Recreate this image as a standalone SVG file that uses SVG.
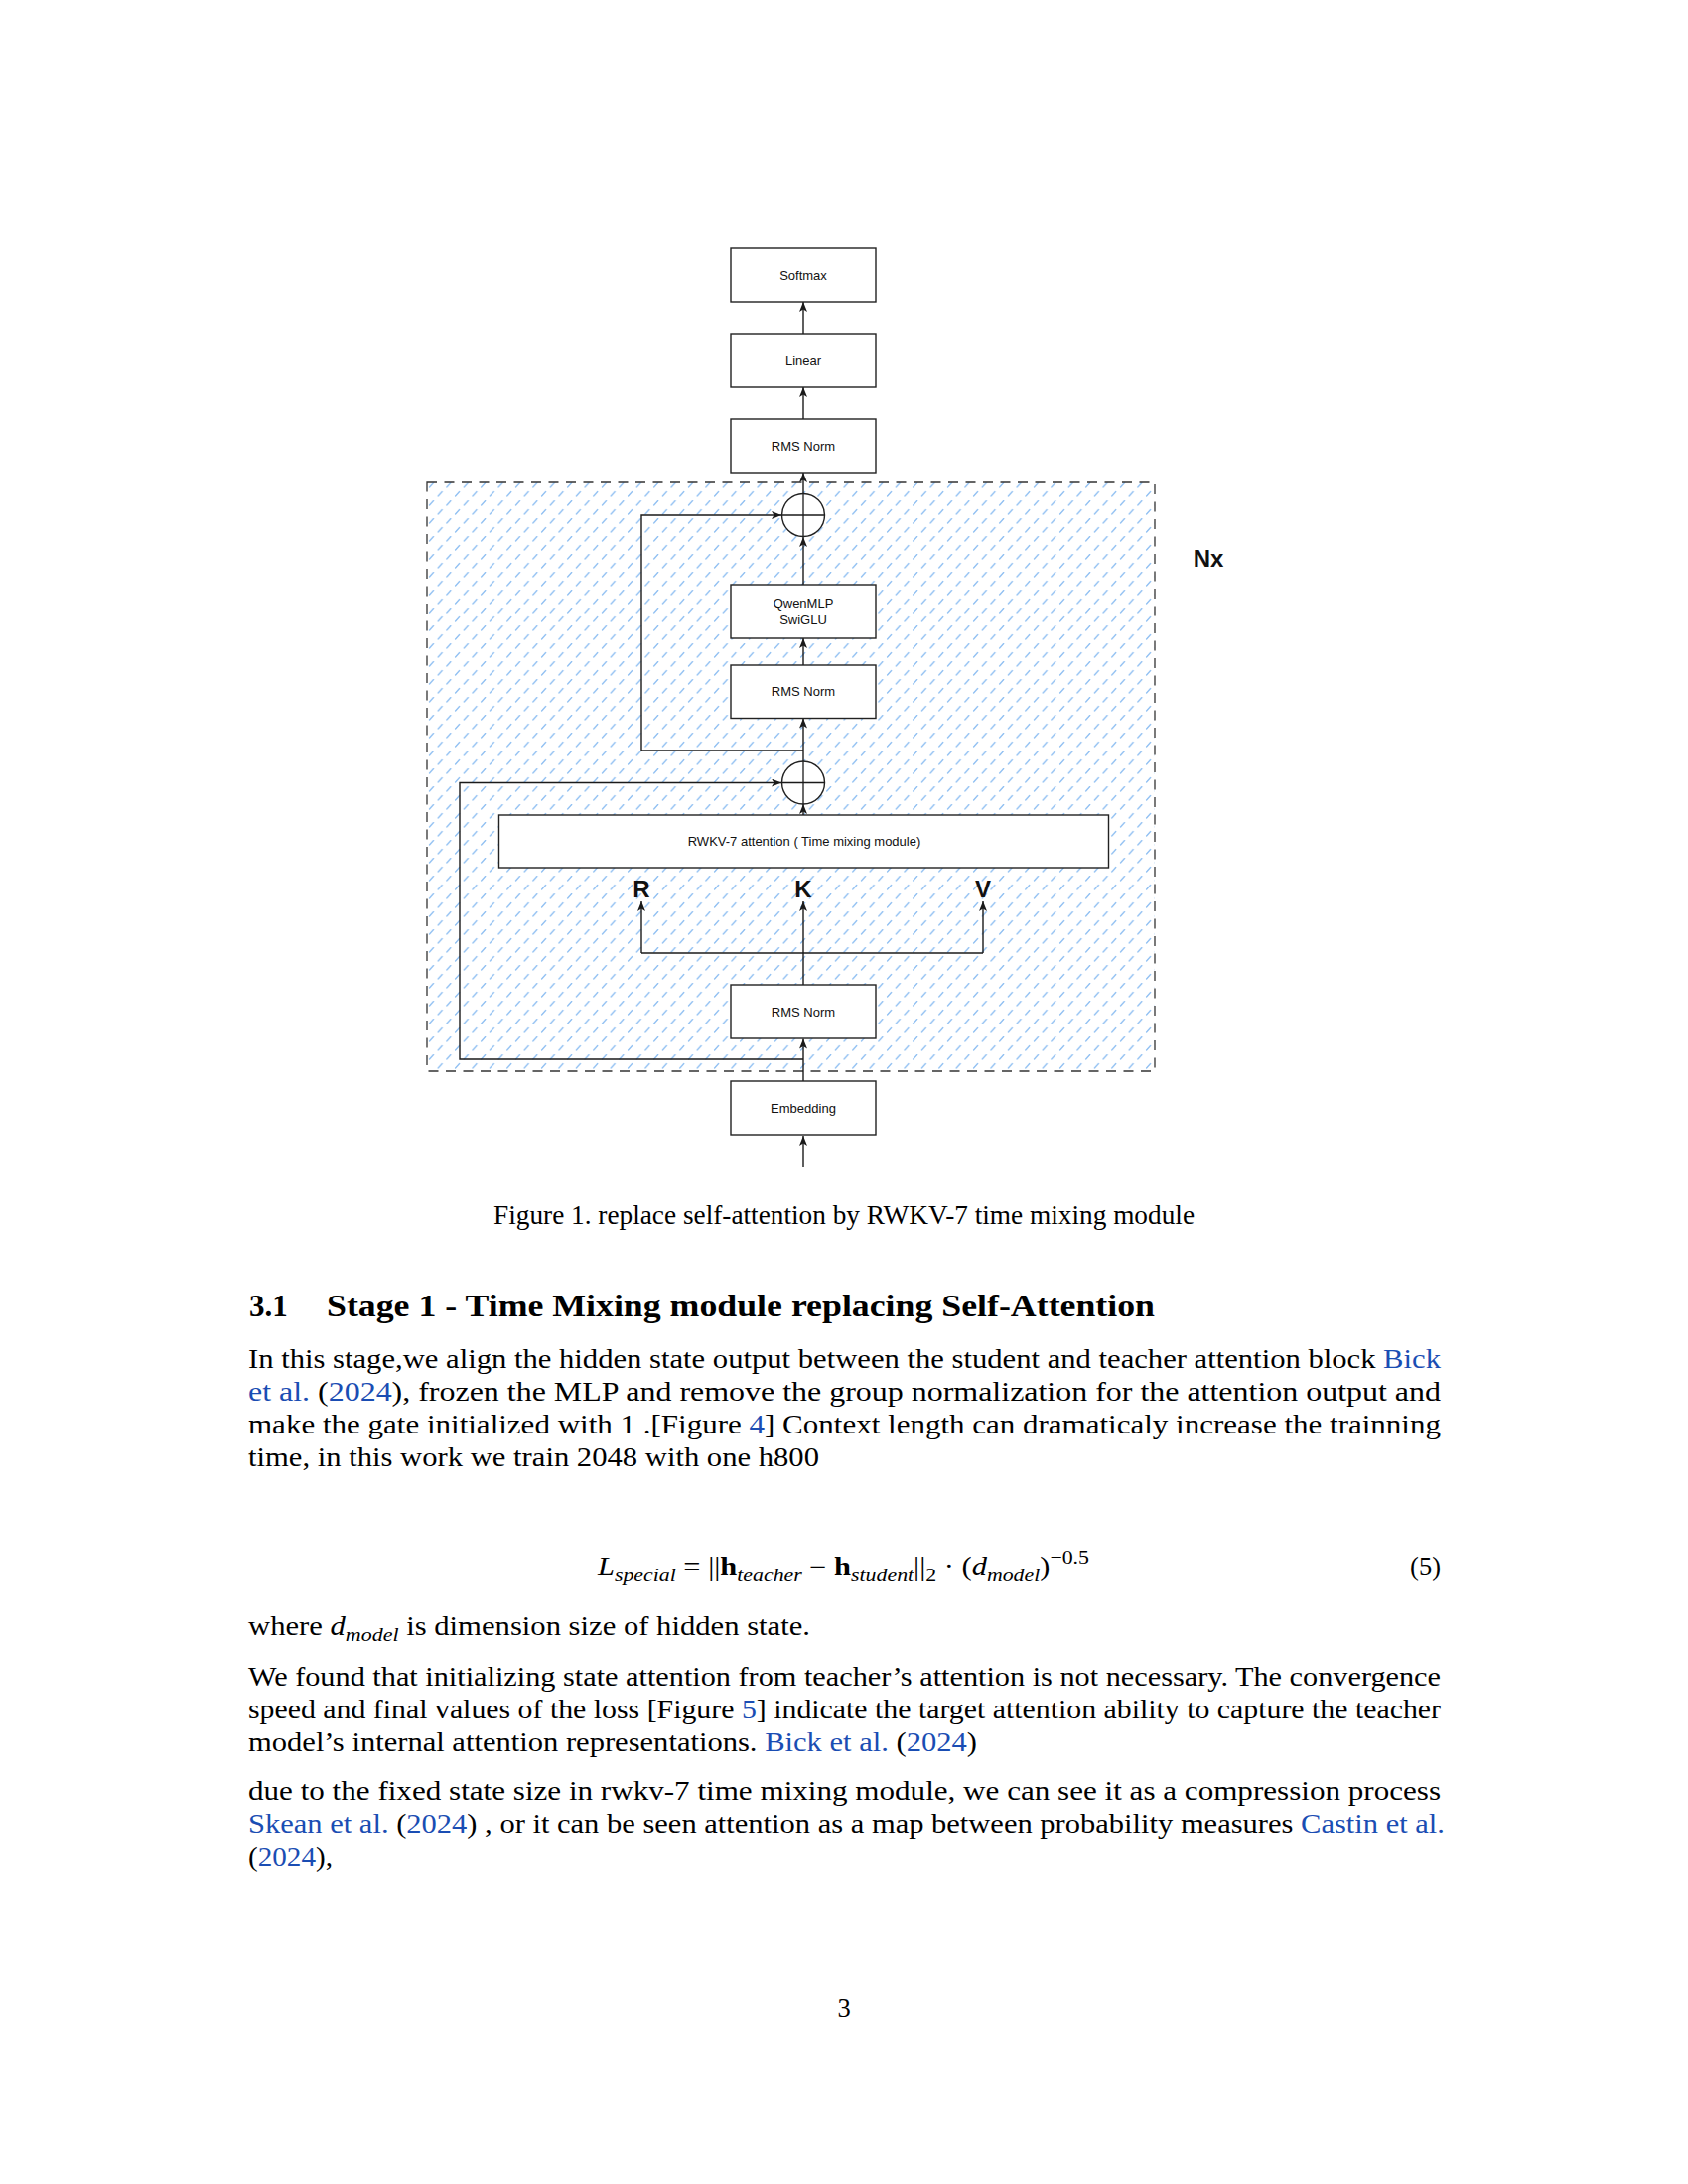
<svg xmlns="http://www.w3.org/2000/svg" width="1700" height="2200" viewBox="0 0 1700 2200">
<style>
.box{fill:#fff;stroke:#222;stroke-width:1.4}
.lbl{font-family:"Liberation Sans",Arial,sans-serif;font-size:13px;fill:#111;text-anchor:middle}
.big{font-family:"Liberation Sans",Arial,sans-serif;font-size:24px;font-weight:bold;fill:#111;text-anchor:middle}
.conn{fill:none;stroke:#1a1a1a;stroke-width:1.4}
.body{font-family:"Liberation Serif","Times New Roman",serif;font-size:26.5px;fill:#000}
.head{font-family:"Liberation Serif","Times New Roman",serif;font-size:31px;font-weight:bold;fill:#000}
.lnk{fill:#1a4db3}
.it{font-style:italic}
</style>
<defs>
<pattern id="hatch" patternUnits="userSpaceOnUse" x="430" y="486" width="17.4" height="18">
<path d="M2.5,5 L6.5,0.5 M11.2,14 L15.2,9.5" stroke="#8fbff2" stroke-width="1.3" stroke-linecap="round"/>
</pattern>
<marker id="arr" markerUnits="userSpaceOnUse" markerWidth="10" markerHeight="8" refX="10" refY="4" orient="auto">
<path d="M0,0 L10,4 L0,8 L2.5,4 Z" fill="#1a1a1a"/>
</marker>
</defs>
<rect width="1700" height="2200" fill="#fff"/>

<g id="container-nx">
<rect x="430" y="486" width="733" height="593" fill="url(#hatch)" stroke="#333" stroke-width="1.3" stroke-dasharray="10 7.5"/>
<text x="1217" y="571" class="big">Nx</text>
</g>

<g id="connectors">
<line class="conn" x1="809" y1="336" x2="809" y2="304" marker-end="url(#arr)"/>
<line class="conn" x1="809" y1="422" x2="809" y2="390" marker-end="url(#arr)"/>
<line class="conn" x1="809" y1="497.5" x2="809" y2="476" marker-end="url(#arr)"/>
<line class="conn" x1="809" y1="589" x2="809" y2="541" marker-end="url(#arr)"/>
<line class="conn" x1="809" y1="670" x2="809" y2="643" marker-end="url(#arr)"/>
<line class="conn" x1="809" y1="767" x2="809" y2="723.5" marker-end="url(#arr)"/>
<line class="conn" x1="809" y1="821" x2="809" y2="810" marker-end="url(#arr)"/>
<polyline class="conn" points="809,756 646,756 646,519 787,519" marker-end="url(#arr)"/>
<polyline class="conn" points="809,1067 463,1067 463,788.5 787,788.5" marker-end="url(#arr)"/>
<line class="conn" x1="809" y1="992" x2="809" y2="908" marker-end="url(#arr)"/>
<line class="conn" x1="646" y1="960" x2="990" y2="960"/>
<line class="conn" x1="646" y1="960" x2="646" y2="908" marker-end="url(#arr)"/>
<line class="conn" x1="990" y1="960" x2="990" y2="908" marker-end="url(#arr)"/>
<line class="conn" x1="809" y1="1089" x2="809" y2="1046.5" marker-end="url(#arr)"/>
<line class="conn" x1="809" y1="1176" x2="809" y2="1144" marker-end="url(#arr)"/>
</g>

<g id="node-softmax"><rect class="box" x="736" y="250" width="146" height="54"/><text class="lbl" x="809" y="281.5">Softmax</text></g>
<g id="node-linear"><rect class="box" x="736" y="336" width="146" height="54"/><text class="lbl" x="809" y="367.5">Linear</text></g>
<g id="node-rmsnorm-final"><rect class="box" x="736" y="422" width="146" height="54"/><text class="lbl" x="809" y="453.5">RMS Norm</text></g>
<g id="node-add-2"><circle cx="809" cy="519" r="21.5" fill="#fff" stroke="#222" stroke-width="1.4"/><line x1="787.5" y1="519" x2="830.5" y2="519" stroke="#1a1a1a" stroke-width="1.3"/><line x1="809" y1="497.5" x2="809" y2="540.5" stroke="#1a1a1a" stroke-width="1.3"/></g>
<g id="node-mlp"><rect class="box" x="736" y="589" width="146" height="54"/><text class="lbl" x="809" y="612">QwenMLP</text><text class="lbl" x="809" y="629">SwiGLU</text></g>
<g id="node-rmsnorm-2"><rect class="box" x="736" y="670" width="146" height="53.5"/><text class="lbl" x="809" y="701">RMS Norm</text></g>
<g id="node-add-1"><circle cx="809" cy="788.5" r="21.5" fill="#fff" stroke="#222" stroke-width="1.4"/><line x1="787.5" y1="788.5" x2="830.5" y2="788.5" stroke="#1a1a1a" stroke-width="1.3"/><line x1="809" y1="767" x2="809" y2="810" stroke="#1a1a1a" stroke-width="1.3"/></g>
<g id="node-rwkv"><rect class="box" x="502.5" y="821" width="614" height="53"/><text class="lbl" x="810" y="852">RWKV-7 attention ( Time mixing module)</text></g>
<g id="label-r"><text class="big" x="646" y="904">R</text></g>
<g id="label-k"><text class="big" x="809" y="904">K</text></g>
<g id="label-v"><text class="big" x="990" y="904">V</text></g>
<g id="node-rmsnorm-1"><rect class="box" x="736" y="992" width="146" height="54"/><text class="lbl" x="809" y="1023.5">RMS Norm</text></g>
<g id="node-embedding"><rect class="box" x="736" y="1089" width="146" height="54"/><text class="lbl" x="809" y="1120.5">Embedding</text></g>

<g id="page-text">
<text class="body" x="497" y="1233" textLength="706" lengthAdjust="spacingAndGlyphs">Figure 1. replace self-attention by RWKV-7 time mixing module</text>
<text class="head" x="251" y="1326">3.1</text>
<text class="head" x="329" y="1326" textLength="834" lengthAdjust="spacingAndGlyphs">Stage 1 - Time Mixing module replacing Self-Attention</text>

<text class="body" x="250" y="1378" textLength="1201" lengthAdjust="spacingAndGlyphs">In this stage,we align the hidden state output between the student and teacher attention block <tspan class="lnk">Bick</tspan></text>
<text class="body" x="250" y="1411" textLength="1201" lengthAdjust="spacingAndGlyphs"><tspan class="lnk">et al.</tspan> (<tspan class="lnk">2024</tspan>), frozen the MLP and remove the group normalization for the attention output and</text>
<text class="body" x="250" y="1444" textLength="1201" lengthAdjust="spacingAndGlyphs">make the gate initialized with 1 .[Figure <tspan class="lnk">4</tspan>] Context length can dramaticaly increase the trainning</text>
<text class="body" x="250" y="1477" textLength="575" lengthAdjust="spacingAndGlyphs">time, in this work we train 2048 with one h800</text>

<text class="body" x="602" y="1587" textLength="495" lengthAdjust="spacingAndGlyphs"><tspan class="it">L</tspan><tspan class="it" font-size="19" dy="6">special</tspan><tspan dy="-6"> = ||</tspan><tspan font-weight="bold">h</tspan><tspan class="it" font-size="19" dy="6">teacher</tspan><tspan dy="-6"> − </tspan><tspan font-weight="bold">h</tspan><tspan class="it" font-size="19" dy="6">student</tspan><tspan dy="-6">||</tspan><tspan font-size="19" dy="6">2</tspan><tspan dy="-6"> · (</tspan><tspan class="it">d</tspan><tspan class="it" font-size="19" dy="6">model</tspan><tspan dy="-6">)</tspan><tspan font-size="19" dy="-12">−0.5</tspan></text>
<text class="body" x="1451" y="1587" text-anchor="end">(5)</text>

<text class="body" x="250" y="1647" textLength="566" lengthAdjust="spacingAndGlyphs">where <tspan class="it">d</tspan><tspan class="it" font-size="19" dy="6">model</tspan><tspan dy="-6"> is dimension size of hidden state.</tspan></text>

<text class="body" x="250" y="1698" textLength="1201" lengthAdjust="spacingAndGlyphs">We found that initializing state attention from teacher’s attention is not necessary. The convergence</text>
<text class="body" x="250" y="1731" textLength="1201" lengthAdjust="spacingAndGlyphs">speed and final values of the loss [Figure <tspan class="lnk">5</tspan>] indicate the target attention ability to capture the teacher</text>
<text class="body" x="250" y="1764" textLength="734" lengthAdjust="spacingAndGlyphs">model’s internal attention representations. <tspan class="lnk">Bick et al.</tspan> (<tspan class="lnk">2024</tspan>)</text>

<text class="body" x="250" y="1813" textLength="1201" lengthAdjust="spacingAndGlyphs">due to the fixed state size in rwkv-7 time mixing module, we can see it as a compression process</text>
<text class="body" x="250" y="1846" textLength="1205" lengthAdjust="spacingAndGlyphs"><tspan class="lnk">Skean et al.</tspan> (<tspan class="lnk">2024</tspan>) , or it can be seen attention as a map between probability measures <tspan class="lnk">Castin et al.</tspan></text>
<text class="body" x="250" y="1880" textLength="85" lengthAdjust="spacingAndGlyphs">(<tspan class="lnk">2024</tspan>),</text>

<text class="body" x="850" y="2032" text-anchor="middle">3</text>
</g>
</svg>
